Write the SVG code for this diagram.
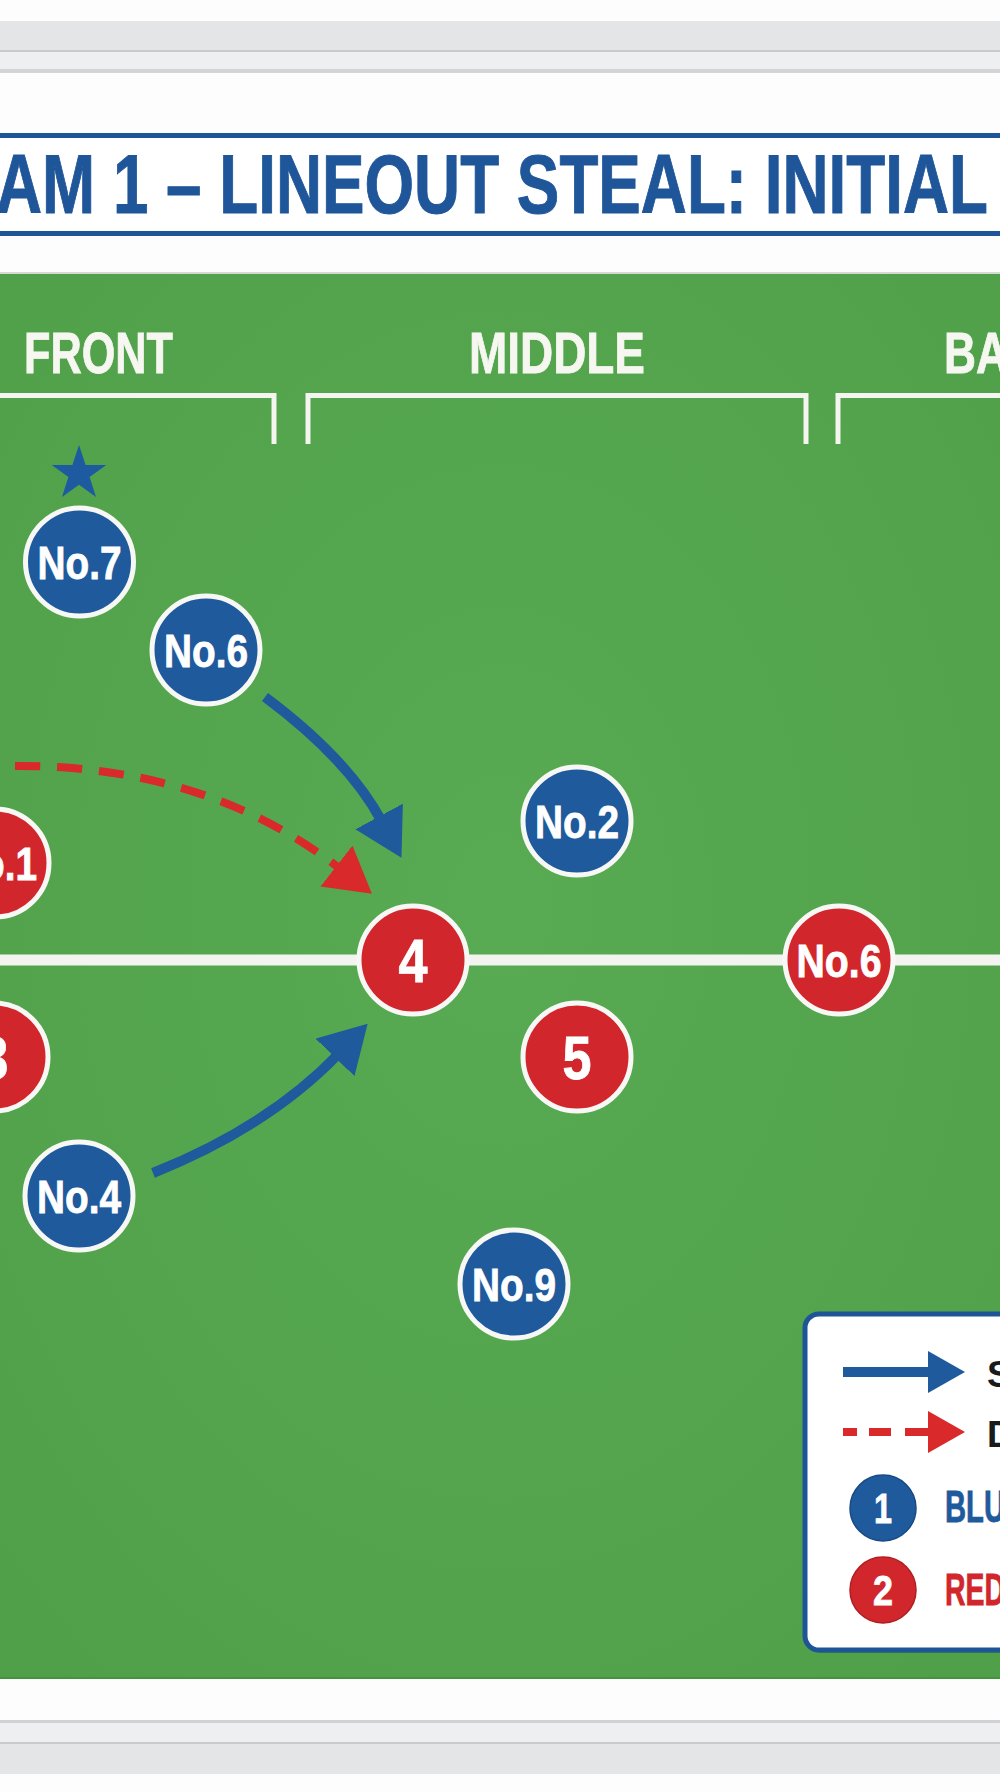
<svg xmlns="http://www.w3.org/2000/svg" width="1000" height="1792" viewBox="0 0 1000 1792">
  <style>
    .lbl { font-family: "Liberation Sans", Arial, sans-serif; font-weight: bold; }
    .node-blue { fill: #1e5a9c; stroke: #f7f7f5; stroke-width: 5; }
    .node-red { fill: #d1272c; stroke: #f7f7f5; stroke-width: 5; }
    .ntext { fill: #ffffff; text-anchor: middle; stroke: #ffffff; stroke-width: 0.8; }
    .section { fill: #f7f7f2; font-size: 57px; stroke: #f7f7f2; stroke-width: 0.8; }
    .bracket { fill: none; stroke: #f4f4f0; stroke-width: 5; stroke-linejoin: miter; }
    .move-blue { fill: none; stroke: #1e5a9c; stroke-width: 10; }
    .move-red { fill: none; stroke: #d9292b; stroke-width: 8; stroke-dasharray: 25 17; }
  </style>
  <defs>
    <radialGradient id="fieldGrad" cx="50%" cy="45%" r="70%">
      <stop offset="0" stop-color="#58ab52"/>
      <stop offset="1" stop-color="#50a04a"/>
    </radialGradient>
    <marker id="ahBlue" markerUnits="userSpaceOnUse" markerWidth="48" markerHeight="54" viewBox="0 0 48 54" refX="4" refY="27" orient="auto">
      <path d="M0,0 L47,27 L0,54 z" fill="#1e5a9c"/>
    </marker>
    <marker id="ahRed" markerUnits="userSpaceOnUse" markerWidth="48" markerHeight="52" viewBox="0 0 48 52" refX="4" refY="26" orient="auto">
      <path d="M0,0 L45,26 L0,52 z" fill="#d9292b"/>
    </marker>
    <marker id="lgBlue" markerUnits="userSpaceOnUse" markerWidth="40" markerHeight="42" viewBox="0 0 40 42" refX="3" refY="21" orient="auto">
      <path d="M0,0 L37,21 L0,42 z" fill="#1e5a9c"/>
    </marker>
    <marker id="lgRed" markerUnits="userSpaceOnUse" markerWidth="40" markerHeight="42" viewBox="0 0 40 42" refX="3" refY="21" orient="auto">
      <path d="M0,0 L37,21 L0,42 z" fill="#d9292b"/>
    </marker>
  </defs>

  <!-- background and frame -->
  <rect x="0" y="0" width="1000" height="1792" fill="#fdfdfd"/>
  <g id="frame-top">
    <rect x="0" y="21" width="1000" height="29" fill="#e4e5e7"/>
    <rect x="0" y="50" width="1000" height="23" fill="#eeeff0"/>
    <rect x="0" y="50" width="1000" height="2" fill="#c9cacd"/>
    <rect x="0" y="69" width="1000" height="4" fill="#d3d4d7"/>
  </g>
  <g id="frame-bottom">
    <rect x="0" y="1721" width="1000" height="23" fill="#eeeff0"/>
    <rect x="0" y="1720" width="1000" height="3" fill="#d0d1d4"/>
    <rect x="0" y="1742" width="1000" height="2" fill="#c9cacd"/>
    <rect x="0" y="1744" width="1000" height="30" fill="#e4e5e7"/>
  </g>

  <!-- title -->
  <g id="title">
    <rect x="-10" y="135.5" width="1020" height="98" fill="#ffffff" stroke="#1d5597" stroke-width="5"/>
    <text class="lbl" x="-4" y="213" font-size="84" fill="#1f5699" stroke="#1f5699" stroke-width="1" textLength="992" lengthAdjust="spacingAndGlyphs">AM 1 – LINEOUT STEAL: INITIAL</text>
  </g>

  <!-- field -->
  <g id="field">
    <rect x="0" y="272" width="1000" height="3" fill="#d6d8d6"/>
    <rect x="0" y="274" width="1000" height="1405" fill="url(#fieldGrad)"/>
    <rect x="0" y="1677" width="1000" height="2" fill="#46933f"/>
    <line x1="0" y1="960" x2="1000" y2="960" stroke="#f3f3ef" stroke-width="11"/>
  </g>

  <!-- sections -->
  <g id="sections">
    <text class="lbl section" x="24" y="373" textLength="149" lengthAdjust="spacingAndGlyphs">FRONT</text>
    <text class="lbl section" x="469" y="373" textLength="176" lengthAdjust="spacingAndGlyphs">MIDDLE</text>
    <text class="lbl section" x="944" y="373" textLength="64" lengthAdjust="spacingAndGlyphs">BA</text>
    <path class="bracket" d="M-10,395.5 H274 V444"/>
    <path class="bracket" d="M308,444 V395.5 H806 V444"/>
    <path class="bracket" d="M838,444 V395.5 H1010"/>
  </g>

  <!-- connectors -->
  <g id="connectors">
    <path class="move-red" d="M15,766 Q207,765 339.6,868.5" marker-end="url(#ahRed)"/>
    <path class="move-blue" d="M265,697 Q348,759 381,820" marker-end="url(#ahBlue)"/>
    <path class="move-blue" d="M153,1173 Q268,1127 337.8,1054.6" marker-end="url(#ahBlue)"/>
  </g>

  <!-- nodes -->
  <g id="star">
    <polygon points="79,445 85.6,464.9 106.3,464.9 89.6,477.1 96,497 79,484.7 62,497 68.4,477.1 51.7,464.9 72.4,464.9" fill="#1e5aa0"/>
  </g>
  <g id="blue-no7">
    <circle class="node-blue" cx="79.5" cy="562" r="54"/>
    <text class="lbl ntext" x="79.5" y="579" font-size="46" textLength="84" lengthAdjust="spacingAndGlyphs">No.7</text>
  </g>
  <g id="blue-no6">
    <circle class="node-blue" cx="206" cy="650" r="54"/>
    <text class="lbl ntext" x="206" y="667" font-size="46" textLength="84" lengthAdjust="spacingAndGlyphs">No.6</text>
  </g>
  <g id="blue-no2">
    <circle class="node-blue" cx="577" cy="821" r="54"/>
    <text class="lbl ntext" x="577" y="838" font-size="46" textLength="84" lengthAdjust="spacingAndGlyphs">No.2</text>
  </g>
  <g id="blue-no4">
    <circle class="node-blue" cx="79" cy="1196" r="54"/>
    <text class="lbl ntext" x="79" y="1213" font-size="46" textLength="84" lengthAdjust="spacingAndGlyphs">No.4</text>
  </g>
  <g id="blue-no9">
    <circle class="node-blue" cx="514" cy="1284" r="54"/>
    <text class="lbl ntext" x="514" y="1301" font-size="46" textLength="84" lengthAdjust="spacingAndGlyphs">No.9</text>
  </g>
  <g id="red-no1">
    <circle class="node-red" cx="-5" cy="863" r="54"/>
    <text class="lbl ntext" x="-5" y="880" font-size="46" textLength="84" lengthAdjust="spacingAndGlyphs">No.1</text>
  </g>
  <g id="red-3">
    <circle class="node-red" cx="-6" cy="1057" r="54"/>
    <text class="lbl ntext" x="-6" y="1079" font-size="62" textLength="29" lengthAdjust="spacingAndGlyphs">3</text>
  </g>
  <g id="red-4">
    <circle class="node-red" cx="413" cy="960" r="54"/>
    <text class="lbl ntext" x="413" y="982" font-size="62" textLength="29" lengthAdjust="spacingAndGlyphs">4</text>
  </g>
  <g id="red-5">
    <circle class="node-red" cx="577" cy="1057" r="54"/>
    <text class="lbl ntext" x="577" y="1079" font-size="62" textLength="29" lengthAdjust="spacingAndGlyphs">5</text>
  </g>
  <g id="red-no6">
    <circle class="node-red" cx="839" cy="960" r="54"/>
    <text class="lbl ntext" x="839" y="977" font-size="46" textLength="85" lengthAdjust="spacingAndGlyphs">No.6</text>
  </g>

  <!-- legend -->
  <g id="legend">
    <rect x="807" y="1317" width="300" height="336" rx="14" fill="#000000" opacity="0.15"/>
    <rect x="805" y="1314" width="300" height="336" rx="14" fill="#ffffff" stroke="#1d5597" stroke-width="5"/>
    <path d="M843,1372 H931" fill="none" stroke="#1e5a9c" stroke-width="10" marker-end="url(#lgBlue)"/>
    <text class="lbl" x="987" y="1387" font-size="37" fill="#1a1a1a">S</text>
    <path d="M843,1432 H931" fill="none" stroke="#d9292b" stroke-width="8" stroke-dasharray="14 12 22 14 40" marker-end="url(#lgRed)"/>
    <text class="lbl" x="987" y="1447" font-size="37" fill="#1a1a1a">D</text>
    <circle cx="883" cy="1508" r="33" fill="#1e5a9c" stroke="#174a85" stroke-width="1.5"/>
    <text class="lbl ntext" x="883" y="1523" font-size="42" textLength="18" lengthAdjust="spacingAndGlyphs">1</text>
    <text class="lbl" x="945" y="1522" font-size="44" fill="#1e5a9c" stroke="#1e5a9c" stroke-width="0.8" textLength="60" lengthAdjust="spacingAndGlyphs">BLU</text>
    <circle cx="883" cy="1590" r="33" fill="#d1272c" stroke="#b01e22" stroke-width="1.5"/>
    <text class="lbl ntext" x="883" y="1605" font-size="42" textLength="20" lengthAdjust="spacingAndGlyphs">2</text>
    <text class="lbl" x="945" y="1605" font-size="44" fill="#d1272c" stroke="#d1272c" stroke-width="0.8" textLength="60" lengthAdjust="spacingAndGlyphs">RED</text>
  </g>
</svg>
